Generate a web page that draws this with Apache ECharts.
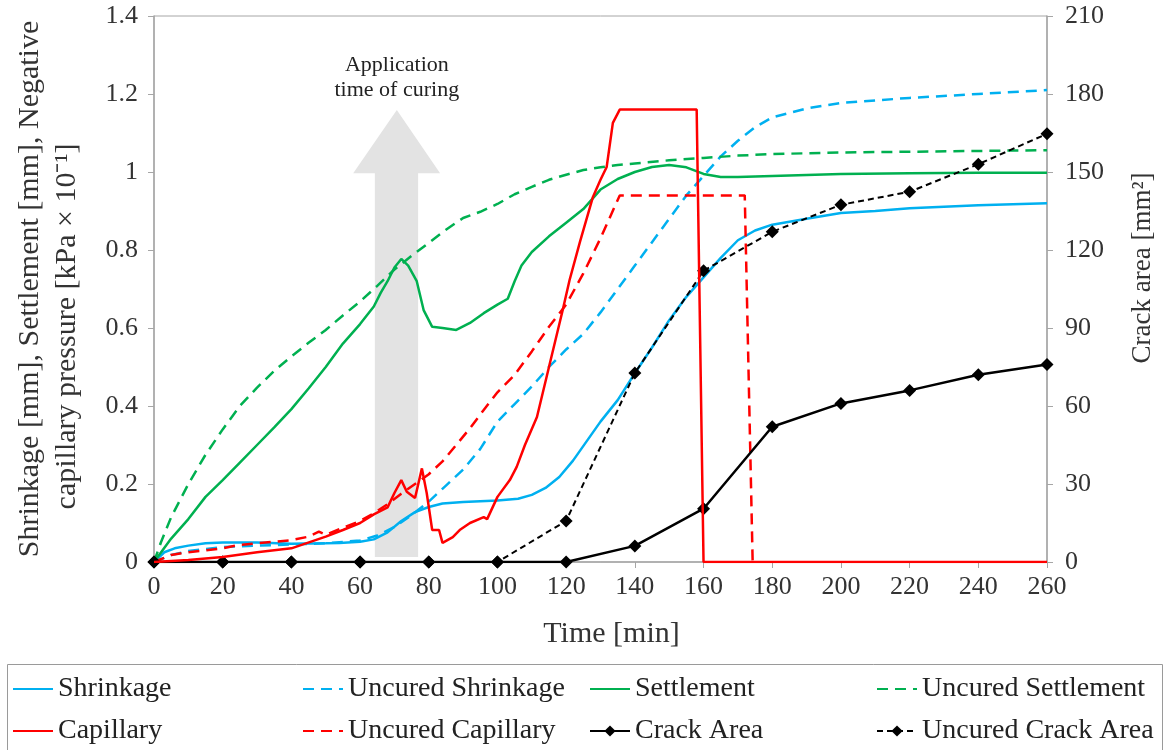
<!DOCTYPE html>
<html>
<head>
<meta charset="utf-8">
<script src="https://cdn.jsdelivr.net/npm/echarts@6/dist/echarts.min.js"></script>
<style>html,body{margin:0;padding:0;background:#fff}#c{width:1167px;height:750px}</style>
</head>
<body>
<div id="c"></div>
<script>
// ---- data ----
const shrinkT = [0,3,6,10,15,20,30,40,50,54,60,64,68,72,76,80,84,90,100,106,110,114,118,122,126,130,135,140,145,150,155,160,165,170,175,180,190,200,210,220,240,260];
const shrinkV = [0,0.025,0.035,0.042,0.048,0.05,0.05,0.047,0.048,0.049,0.052,0.058,0.076,0.105,0.128,0.141,0.15,0.154,0.158,0.162,0.172,0.19,0.218,0.26,0.31,0.36,0.415,0.484,0.55,0.62,0.68,0.73,0.78,0.825,0.85,0.865,0.88,0.895,0.9,0.907,0.915,0.92];

const uShrinkT = [0,5,10,20,30,40,50,60,65,70,75,80,85,90,95,100,105,110,115,120,125,130,135,140,145,150,155,160,165,170,175,180,190,200,220,240,260];
const uShrinkV = [0,0.018,0.028,0.038,0.042,0.045,0.048,0.055,0.068,0.09,0.12,0.155,0.196,0.237,0.29,0.36,0.405,0.45,0.5,0.545,0.585,0.64,0.7,0.76,0.82,0.88,0.94,0.99,1.04,1.08,1.115,1.14,1.163,1.177,1.19,1.2,1.21];

const settleT = [0,5,10,15,20,25,30,35,40,45,50,55,60,64,66,68,70,72,74,75.5,76.5,78.5,81,84,88,92,96,100,103,105,107,110,115,120,125,130,135,140,145,150,155,160,165,170,180,200,220,240,260];
const settleV = [0,0.06,0.11,0.167,0.21,0.255,0.3,0.345,0.392,0.445,0.5,0.56,0.61,0.655,0.69,0.72,0.755,0.777,0.76,0.736,0.72,0.646,0.603,0.6,0.595,0.613,0.638,0.66,0.675,0.72,0.76,0.795,0.835,0.87,0.905,0.955,0.982,1.0,1.013,1.018,1.012,0.995,0.987,0.987,0.99,0.995,0.997,0.998,0.998];

const uSettleT = [0,2,5,10,15,20,25,30,35,40,45,50,55,60,65,70,75,80,85,90,95,100,105,110,115,120,125,130,135,140,150,160,170,180,200,220,240,260];
const uSettleV = [0,0.05,0.115,0.2,0.275,0.34,0.4,0.447,0.49,0.527,0.562,0.595,0.632,0.668,0.708,0.75,0.785,0.818,0.852,0.882,0.898,0.918,0.943,0.962,0.98,0.993,1.005,1.012,1.018,1.022,1.03,1.036,1.042,1.046,1.05,1.052,1.054,1.056];

const capT = [0,10,20,30,40,50,55,60,64,68,70,72,73.6,76,78,79.4,81,83,84,87,89,92,96,97,100,103.6,105.6,108,111.5,115,119,121,124,127.8,130,131.8,133.6,135.6,158,160,180,200,220,240,260];
const capV = [0,0.005,0.013,0.025,0.035,0.065,0.082,0.1,0.122,0.14,0.177,0.21,0.18,0.164,0.24,0.177,0.082,0.082,0.049,0.064,0.082,0.1,0.115,0.11,0.167,0.21,0.244,0.3,0.372,0.5,0.646,0.723,0.82,0.936,0.98,1.013,1.126,1.16,1.16,0,0,0,0,0,0];

const uCapT = [0,5,10,20,25,30,40,45,48,50,55,60,64,68,72,76,80,84,88,92,96,100,105,110,115,120,125,130,135.6,172,174.3];
const uCapV = [0,0.018,0.025,0.035,0.044,0.048,0.056,0.065,0.078,0.07,0.088,0.105,0.125,0.148,0.175,0.2,0.225,0.258,0.3,0.343,0.39,0.435,0.48,0.54,0.603,0.66,0.74,0.83,0.94,0.94,0];

const crackT = [0,20,40,60,80,100,120,140,160,180,200,220,240,260];
const crackV = [0,0,0,0,0,0,0,6.2,20.5,52,61,66,72,76];
const uCrackV = [0,0,0,0,0,0,15.8,72.7,112,127,137.4,142.4,153,164.7];

const leftTicks = {min:0, max:1.4, interval:0.2};
const rightTicks = {min:0, max:210, interval:30};
const timeTicks = {min:0, max:260, interval:20};

// ---- helpers ----
const pairs = (t, v) => t.map((x, i) => [x, v[i]]);
const SERIF = 'Liberation Serif';
const BLUE = '#00B0F0', GREEN = '#00B050', RED = '#FF0000', BLACK = '#000000';
const AXIS = '#A6A6A6', TXT = '#333333';

function lineSeries(name, t, v, color, dashed, extra) {
  return Object.assign({
    name, type: 'line', data: pairs(t, v), symbol: 'none', smooth: false,
    lineStyle: {color, width: 2.5, type: dashed ? [11, 7] : 'solid'},
    itemStyle: {color}, z: 3
  }, extra || {});
}

const chart = echarts.init(document.getElementById('c'), null, {renderer: 'canvas'});

const legendText = {fontFamily: SERIF, fontSize: 28, color: '#222'};
const legendCommon = {orient: 'vertical', top: 675, height: 80, itemWidth: 40, itemHeight: 14, itemGap: 14, textStyle: legendText, padding: 0, selectedMode: false};
const plain = n => ({name: n, itemStyle: {opacity: 0}});

const option = {
  animation: false,
  backgroundColor: '#fff',
  grid: {left: 154, right: 120, top: 16, bottom: 188, show: true, borderColor: AXIS, borderWidth: 1, backgroundColor: 'transparent'},
  xAxis: {
    type: 'value', min: timeTicks.min, max: timeTicks.max, interval: timeTicks.interval,
    name: 'Time [min]', nameLocation: 'middle', nameGap: 57,
    nameTextStyle: {fontFamily: SERIF, fontSize: 30, color: TXT, padding: [0, 0, 0, 22]},
    axisLine: {show: true, lineStyle: {color: AXIS, width: 1.5}},
    axisTick: {show: true, length: 6, lineStyle: {color: AXIS}},
    axisLabel: {fontFamily: SERIF, fontSize: 26, color: TXT, margin: 12},
    splitLine: {show: false}
  },
  yAxis: [
    {
      type: 'value', position: 'left', min: leftTicks.min, max: leftTicks.max, interval: leftTicks.interval,
      name: 'Shrinkage [mm], Settlement [mm], Negative\ncapillary pressure [kPa × 10⁻¹]' + '\u00a0'.repeat(10),
      nameLocation: 'middle', nameGap: 68, nameRotate: 90,
      nameTextStyle: {fontFamily: SERIF, fontSize: 30, color: TXT, lineHeight: 37},
      axisLine: {show: true, lineStyle: {color: AXIS, width: 1.5}},
      axisTick: {show: true, length: 6, lineStyle: {color: AXIS}},
      axisLabel: {fontFamily: SERIF, fontSize: 26, color: TXT, margin: 16},
      splitLine: {show: false}
    },
    {
      type: 'value', position: 'right', min: rightTicks.min, max: rightTicks.max, interval: rightTicks.interval,
      name: 'Crack area [mm²]', nameLocation: 'middle', nameGap: 82, nameRotate: 90,
      nameTextStyle: {fontFamily: SERIF, fontSize: 27, color: TXT, padding: [0, 0, 0, 42]},
      axisLine: {show: true, lineStyle: {color: AXIS, width: 1.5}},
      axisTick: {show: true, length: 6, lineStyle: {color: AXIS}},
      axisLabel: {fontFamily: SERIF, fontSize: 26, color: TXT, margin: 18},
      splitLine: {show: false}
    }
  ],
  legend: [
    Object.assign({left: 12, data: [plain('Shrinkage'), plain('Capillary')]}, legendCommon),
    Object.assign({left: 302, data: [plain('Uncured Shrinkage'), plain('Uncured Capillary')]}, legendCommon),
    Object.assign({left: 589, data: [plain('Settlement'), 'Crack Area']}, legendCommon),
    Object.assign({left: 876, data: [plain('Uncured Settlement'), 'Uncured Crack Area']}, legendCommon)
  ],
  graphic: [
    {type: 'rect', left: 5, top: 662, shape: {x: 0, y: 0, width: 1155, height: 120}, style: {fill: 'none', stroke: '#9A9A9A', lineWidth: 1}, silent: true}
  ],
  series: [
    {
      type: 'custom', name: 'arrow', silent: true, z: 1, xAxisIndex: 0, yAxisIndex: 0,
      data: [[70.7, 0]],
      renderItem: function (params, api) {
        const shape = [[64.3, 0.013], [76.9, 0.013], [76.9, 0.997], [83.3, 0.997], [70.7, 1.159], [58.0, 0.997], [64.3, 0.997]];
        const pts = shape.map(p => api.coord(p));
        const tp = api.coord([70.7, 1.242]);
        return {
          type: 'group',
          children: [
            {type: 'polygon', shape: {points: pts}, style: {fill: '#E3E3E3'}},
            {type: 'text', x: tp[0], y: tp[1], style: {text: 'Application\ntime of curing', align: 'center', verticalAlign: 'middle', fontFamily: SERIF, fontSize: 22, lineHeight: 25, fill: '#222'}}
          ]
        };
      }
    },
    lineSeries('Shrinkage', shrinkT, shrinkV, BLUE, false),
    lineSeries('Uncured Shrinkage', uShrinkT, uShrinkV, BLUE, true),
    lineSeries('Settlement', settleT, settleV, GREEN, false),
    lineSeries('Uncured Settlement', uSettleT, uSettleV, GREEN, true),
    lineSeries('Uncured Capillary', uCapT, uCapV, RED, true),
    {
      name: 'Crack Area', type: 'line', yAxisIndex: 1, data: pairs(crackT, crackV),
      symbol: 'diamond', symbolSize: 13, showSymbol: true,
      lineStyle: {color: BLACK, width: 2.5}, itemStyle: {color: BLACK}, z: 4
    },
    {
      name: 'Uncured Crack Area', type: 'line', yAxisIndex: 1, data: pairs(crackT, uCrackV),
      symbol: 'diamond', symbolSize: 13, showSymbol: true,
      lineStyle: {color: BLACK, width: 2, type: [6, 4]}, itemStyle: {color: BLACK}, z: 4
    },
    lineSeries('Capillary', capT, capV, RED, false, {z: 5})
  ]
};
chart.setOption(option);
</script>
</body>
</html>
